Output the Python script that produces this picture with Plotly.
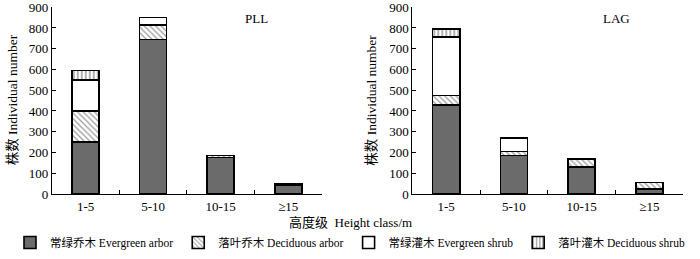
import plotly.graph_objects as go

categories = ["1-5", "5-10", "10-15", "≥15"]
series_names = ["常绿乔木 Evergreen arbor", "落叶乔木 Deciduous arbor",
                "常绿灌木 Evergreen shrub", "落叶灌木 Deciduous shrub"]

pll_ev_arbor = [250, 745, 175, 42]
pll_dec_arbor = [150, 70, 10, 8]
pll_ev_shrub = [150, 35, 0, 0]
pll_dec_shrub = [45, 0, 0, 0]

lag_ev_arbor = [430, 185, 130, 25]
lag_dec_arbor = [45, 20, 40, 30]
lag_ev_shrub = [280, 65, 0, 0]
lag_dec_shrub = [40, 0, 0, 0]

y_ticks = [0, 100, 200, 300, 400, 500, 600, 700, 800, 900]

FONT = "Liberation Serif, Noto Sans CJK SC, serif"

styles = [
    dict(color="#6b6b6b", pattern=dict(shape="")),
    dict(color="white", pattern=dict(shape="\\", fgcolor="#333333", size=4, solidity=0.3)),
    dict(color="white", pattern=dict(shape="")),
    dict(color="white", pattern=dict(shape="|", fgcolor="#222222", size=4, solidity=0.35)),
]

fig = go.Figure()
panels = [
    ("x", "y", [pll_ev_arbor, pll_dec_arbor, pll_ev_shrub, pll_dec_shrub], True),
    ("x2", "y2", [lag_ev_arbor, lag_dec_arbor, lag_ev_shrub, lag_dec_shrub], False),
]
for xa, ya, data, show in panels:
    for i, (name, vals) in enumerate(zip(series_names, data)):
        st = styles[i]
        fig.add_trace(go.Bar(
            x=categories, y=vals, name=name, xaxis=xa, yaxis=ya,
            width=0.4, legendgroup=name, showlegend=show,
            marker=dict(color=st["color"], pattern=st["pattern"],
                        line=dict(color="black", width=1.6)),
        ))

axis_common = dict(showline=True, linecolor="black", linewidth=1, showgrid=False,
                   zeroline=False, ticks="inside", ticklen=4, tickcolor="black",
                   automargin=False, ticklabeloverflow="allow",
                   tickfont=dict(family=FONT, size=13, color="black"))

def label(text, x, y, angle=0, size=13):
    return dict(text=text, x=x, y=y, xref="paper", yref="paper", showarrow=False,
                xanchor="center", yanchor="middle", textangle=angle,
                font=dict(family=FONT, size=size))

fig.update_layout(
    width=700, height=259, barmode="stack",
    paper_bgcolor="white", plot_bgcolor="white",
    margin=dict(l=0, r=0, t=0, b=0, autoexpand=False),
    font=dict(family=FONT, color="black", size=13),
    xaxis=dict(domain=[0.074, 0.46], anchor="y", tickson="boundaries", **axis_common),
    xaxis2=dict(domain=[0.589, 0.976], anchor="y2", tickson="boundaries", **axis_common),
    yaxis=dict(domain=[0.251, 0.973], anchor="x", range=[0, 901], tickvals=y_ticks,
               **axis_common),
    yaxis2=dict(domain=[0.251, 0.973], anchor="x2", range=[0, 901], tickvals=y_ticks,
                **axis_common),
    legend=dict(orientation="h", x=0.5, xanchor="center", y=0.008, yanchor="bottom",
                font=dict(family=FONT, size=11.5), itemwidth=30, tracegroupgap=0,
                bgcolor="rgba(0,0,0,0)"),
    annotations=[
        label("PLL", 0.367, 0.93),
        label("LAG", 0.881, 0.93),
        label("高度级  Height class/m", 0.5, 0.139),
        label("株数 Individual number", 0.019, 0.614, -90, 13.5),
        label("株数 Individual number", 0.531, 0.614, -90, 13.5),
    ],
)

fig.write_html("out.html", config={"displayModeBar": False},
               post_script="document.body.style.margin='0';")
